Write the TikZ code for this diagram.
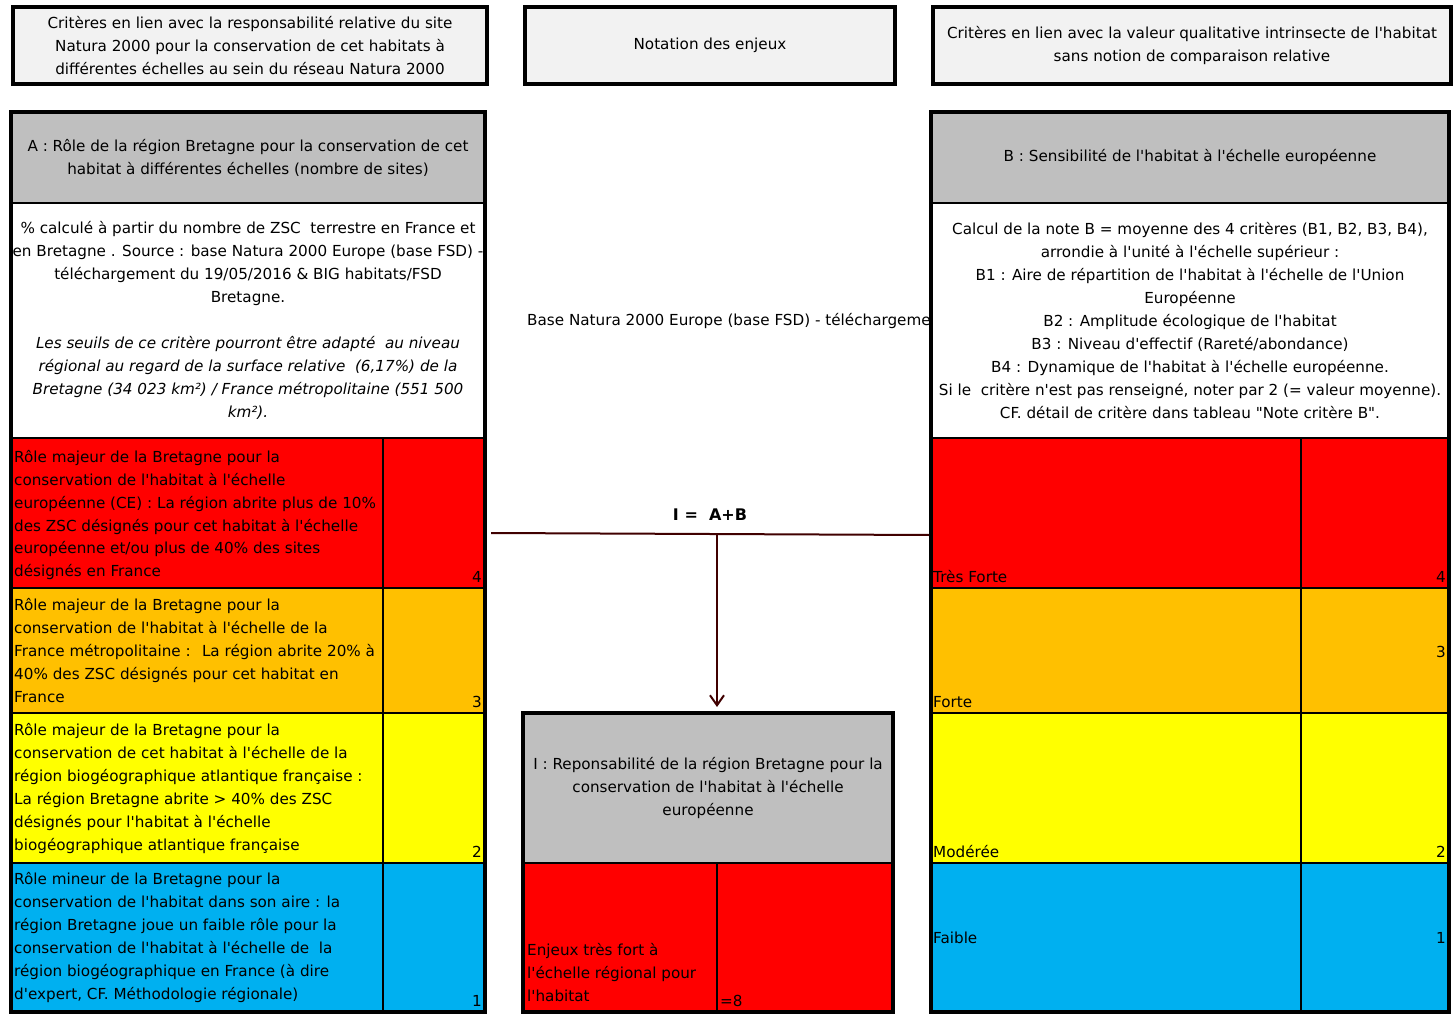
\documentclass[tikz,border=0pt]{standalone}
\usepackage{fontspec}
\setmainfont{DejaVu Sans}[Ligatures=TeXOff]
\usetikzlibrary{arrows.meta, positioning, calc}

\definecolor{rouge}{RGB}{255,0,0}
\definecolor{orangex}{RGB}{255,192,0}
\definecolor{jaune}{RGB}{255,255,0}
\definecolor{bleu}{RGB}{0,176,240}
\definecolor{gris}{RGB}{191,191,191}
\definecolor{grisclair}{RGB}{242,242,242}
\definecolor{brun}{RGB}{64,0,0}

\begin{document}
\begin{tikzpicture}[x=1pt, y=-1pt, font=\fontsize{15.2}{23}\selectfont,
  cellule/.style={draw, line width=1.5pt, inner sep=0pt, outer sep=0pt, anchor=north west},
  entete/.style={draw, line width=4pt, fill=grisclair, inner sep=0pt, anchor=north west, align=center},
  texte/.style={inner sep=0pt, align=left},
  note/.style={inner sep=0pt, anchor=base east},
  lien/.style={draw=brun, line width=2pt}]
\useasboundingbox (0,0) rectangle (1454,1016);

% titres du haut
\node[entete, minimum width=474, minimum height=77] (tA) at (11,5) {Critères en lien avec la responsabilité relative du site\\Natura 2000 pour la conservation de cet habitats à\\différentes échelles au sein du réseau Natura 2000};
\node[entete, minimum width=370, minimum height=77] (tI) at (523,5) {Notation des enjeux};
\node[entete, minimum width=518, minimum height=77] (tB) at (931,5) {Critères en lien avec la valeur qualitative intrinsecte de l'habitat\\sans notion de comparaison relative};

\node[texte, anchor=base west] (fsd) at (527,326) {Base Natura 2000 Europe (base FSD) - téléchargeme};

% bloc A
\node[cellule, fill=gris, minimum width=474, minimum height=91, align=center] (hA) at (11,112) {A : Rôle de la région Bretagne pour la conservation de cet\\habitat à différentes échelles (nombre de sites)};
\node[cellule, fill=white, minimum width=474, minimum height=235, align=center] (dA) at (11,203) {\% calculé à partir du nombre de ZSC \ terrestre en France et\\en Bretagne . Source : base Natura 2000 Europe (base FSD) -\\téléchargement du 19/05/2016 \& BIG habitats/FSD\\Bretagne.\\[23pt]\textit{Les seuils de ce critère pourront être adapté \ au niveau}\\\textit{régional au regard de la surface relative \ (6,17\%) de la}\\\textit{Bretagne (34 023 km²) / France métropolitaine (551 500}\\\textit{km²).}};
\node[cellule, fill=rouge, minimum width=372, minimum height=150] (cA4) at (11,438) {};
\node[cellule, fill=rouge, minimum width=102, minimum height=150] (nA4) at (383,438) {};
\node[cellule, fill=orangex, minimum width=372, minimum height=125] (cA3) at (11,588) {};
\node[cellule, fill=orangex, minimum width=102, minimum height=125] (nA3) at (383,588) {};
\node[cellule, fill=jaune, minimum width=372, minimum height=150] (cA2) at (11,713) {};
\node[cellule, fill=jaune, minimum width=102, minimum height=150] (nA2) at (383,713) {};
\node[cellule, fill=bleu, minimum width=372, minimum height=149] (cA1) at (11,863) {};
\node[cellule, fill=bleu, minimum width=102, minimum height=149] (nA1) at (383,863) {};
\draw[line width=4pt] (hA.north west) rectangle (nA1.south east);

\node[texte, anchor=west] (xA4) at ([xshift=3pt, yshift=-2pt]cA4.west) {Rôle majeur de la Bretagne pour la\\conservation de l'habitat à l'échelle\\européenne (CE) : La région abrite plus de 10\%\\des ZSC désignés pour cet habitat à l'échelle\\européenne et/ou plus de 40\% des sites\\désignés en France};
\node[texte, anchor=west] (xA3) at ([xshift=3pt]cA3.west) {Rôle majeur de la Bretagne pour la\\conservation de l'habitat à l'échelle de la\\France métropolitaine : \ La région abrite 20\% à\\40\% des ZSC désignés pour cet habitat en\\France};
\node[texte, anchor=west] (xA2) at ([xshift=3pt]cA2.west) {Rôle majeur de la Bretagne pour la\\conservation de cet habitat à l'échelle de la\\région biogéographique atlantique française :\\La région Bretagne abrite > 40\% des ZSC\\désignés pour l'habitat à l'échelle\\biogéographique atlantique française};
\node[texte, anchor=west] (xA1) at ([xshift=3pt]cA1.west) {Rôle mineur de la Bretagne pour la\\conservation de l'habitat dans son aire : la\\région Bretagne joue un faible rôle pour la\\conservation de l'habitat à l'échelle de \ la\\région biogéographique en France (à dire\\d'expert, CF. Méthodologie régionale)};
\node[note] (vA4) at ([xshift=-3pt, yshift=6pt]nA4.south east) {4};
\node[note] (vA3) at ([xshift=-3pt, yshift=6pt]nA3.south east) {3};
\node[note] (vA2) at ([xshift=-3pt, yshift=6pt]nA2.south east) {2};
\node[note] (vA1) at ([xshift=-3pt, yshift=6pt]nA1.south east) {1};

% bloc B
\node[cellule, fill=gris, minimum width=518, minimum height=91, align=center] (hB) at (931,112) {B : Sensibilité de l'habitat à l'échelle européenne};
\node[cellule, fill=white, minimum width=518, minimum height=235, align=center] (dB) at (931,203) {Calcul de la note B = moyenne des 4 critères (B1, B2, B3, B4),\\arrondie à l'unité à l'échelle supérieur :\\B1 : Aire de répartition de l'habitat à l'échelle de l'Union\\Européenne\\B2 : Amplitude écologique de l'habitat\\B3 : Niveau d'effectif (Rareté/abondance)\\B4 : Dynamique de l'habitat à l'échelle européenne.\\Si le \ critère n'est pas renseigné, noter par 2 (= valeur moyenne).\\CF. détail de critère dans tableau "Note critère B".};
\node[cellule, fill=rouge, minimum width=370, minimum height=150] (cB4) at (931,438) {};
\node[cellule, fill=rouge, minimum width=148, minimum height=150] (nB4) at (1301,438) {};
\node[cellule, fill=orangex, minimum width=370, minimum height=125] (cB3) at (931,588) {};
\node[cellule, fill=orangex, minimum width=148, minimum height=125] (nB3) at (1301,588) {};
\node[cellule, fill=jaune, minimum width=370, minimum height=150] (cB2) at (931,713) {};
\node[cellule, fill=jaune, minimum width=148, minimum height=150] (nB2) at (1301,713) {};
\node[cellule, fill=bleu, minimum width=370, minimum height=149] (cB1) at (931,863) {};
\node[cellule, fill=bleu, minimum width=148, minimum height=149] (nB1) at (1301,863) {};
\draw[line width=4pt] (hB.north west) rectangle (nB1.south east);

\node[texte, anchor=base west] (xB4) at ([xshift=2pt, yshift=6pt]cB4.south west) {Très Forte};
\node[texte, anchor=base west] (xB3) at ([xshift=2pt, yshift=6pt]cB3.south west) {Forte};
\node[texte, anchor=base west] (xB2) at ([xshift=2pt, yshift=6pt]cB2.south west) {Modérée};
\node[texte, anchor=west] (xB1) at ([xshift=2pt]cB1.west) {Faible};
\node[note] (vB4) at ([xshift=-3pt, yshift=6pt]nB4.south east) {4};
\node[note] (vB3) at ([xshift=-3pt, yshift=56pt]nB3.south east) {3};
\node[note] (vB2) at ([xshift=-3pt, yshift=6pt]nB2.south east) {2};
\node[texte, anchor=east] (vB1) at ([xshift=-3pt]nB1.east) {1};

% bloc I
\node[cellule, fill=gris, minimum width=370, minimum height=150, align=center] (hI) at (523,713) {I : Reponsabilité de la région Bretagne pour la\\conservation de l'habitat à l'échelle\\européenne};
\node[cellule, fill=rouge, minimum width=194, minimum height=149] (cI) at (523,863) {};
\node[cellule, fill=rouge, minimum width=176, minimum height=149] (nI) at (717,863) {};
\draw[line width=4pt] (hI.north west) rectangle (nI.south east);
\node[texte, anchor=south west] (xI) at ([xshift=4pt, yshift=10pt]cI.south west) {Enjeux très fort à\\l'échelle régional pour\\l'habitat};
\node[texte, anchor=base west] (vI) at ([xshift=3pt, yshift=6pt]nI.south west) {=8};

% somme A+B
\coordinate (gauche) at (491,533);
\coordinate (droite) at (929,535);
\coordinate (jonction) at (717,534);
\draw[lien] (gauche) -- node[above=9pt, black, font=\fontsize{16}{23}\selectfont\bfseries] (somme) {I = \ A+B} (droite);
\draw[lien, -{Straight Barb[length=10pt, width=14pt]}] (jonction) -- ([yshift=6pt]jonction |- hI.north);
\end{tikzpicture}
\end{document}
